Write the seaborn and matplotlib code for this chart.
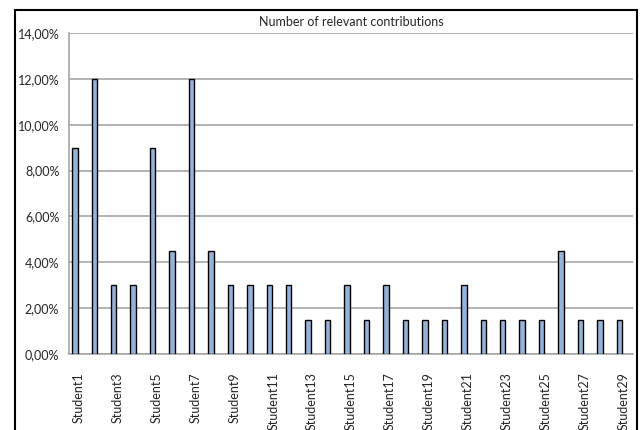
import numpy as np
import pandas as pd
import matplotlib
matplotlib.use("Agg")
import matplotlib.pyplot as plt
import seaborn as sns
from matplotlib.ticker import FuncFormatter, MultipleLocator
from matplotlib.patches import Rectangle

TITLE = "Number of relevant contributions"
STUDENTS = [f"Student{i}" for i in range(1, 30)]
SHARE = [9.0, 12.0, 3.0, 3.0, 9.0, 4.5, 12.0, 4.5, 3.0, 3.0,
         3.0, 3.0, 1.5, 1.5, 3.0, 1.5, 3.0, 1.5, 1.5, 1.5,
         3.0, 1.5, 1.5, 1.5, 1.5, 4.5, 1.5, 1.5, 1.5]

BAR_COLOR = "#95B3D7"
GRID_COLOR = "#A6A6A6"

sns.set_style("white")
plt.rcParams["font.family"] = ["Lato", "DejaVu Sans"]

df = pd.DataFrame({"student": STUDENTS, "share": SHARE})

fig = plt.figure(figsize=(6.4, 4.3), dpi=100)
ax = fig.add_axes([69 / 640, 1 - 354 / 430, (633 - 69) / 640, (354 - 33) / 430])

sns.barplot(data=df, x="student", y="share", color=BAR_COLOR, width=0.28,
            edgecolor="black", linewidth=1.0, saturation=1, ax=ax, zorder=3)

# Excel places the single series left of centre in each category
for p in ax.patches:
    p.set_x(p.get_x() - 0.2)

ax.set_xlim(-0.5, len(STUDENTS) - 0.5)
ax.set_ylim(0, 14)
ax.yaxis.set_major_locator(MultipleLocator(2))
ax.yaxis.set_major_formatter(FuncFormatter(lambda v, _: f"{v:.2f}%".replace(".", ",")))
ax.yaxis.grid(True, color=GRID_COLOR, linewidth=1.2, zorder=0)
ax.set_axisbelow(True)

# category ticks on the boundaries, labels on every other category
ax.set_xticks(np.arange(len(STUDENTS) + 1) - 0.5, minor=False)
ax.set_xticklabels([])
ax.set_xticks(np.arange(0, len(STUDENTS), 2), minor=True)
ax.set_xticklabels(STUDENTS[::2], minor=True, rotation=90, fontsize=9)
ax.tick_params(axis="x", which="major", direction="out", length=5, color=GRID_COLOR, width=1)
ax.tick_params(axis="x", which="minor", length=0, pad=13)
ax.tick_params(axis="y", direction="out", length=5, color=GRID_COLOR, width=1, labelsize=9, pad=2)

ax.set_xlabel("")
ax.set_ylabel("")
for side in ["top", "right"]:
    ax.spines[side].set_visible(False)
for side in ["left", "bottom"]:
    ax.spines[side].set_color(GRID_COLOR)
    ax.spines[side].set_linewidth(1.2)

fig.text((69 + 633) / 2 / 640, 1 - 22 / 430, TITLE, ha="center", va="center", fontsize=9)

# chart-area frame, cut by the bottom of the picture
fig.patches.append(Rectangle((15 / 640, -0.1), (637 - 15) / 640, 1.1 - 10 / 430,
                             transform=fig.transFigure, fill=False,
                             edgecolor="black", linewidth=1.5))

plt.savefig("out.png", dpi=100)
plt.close()
